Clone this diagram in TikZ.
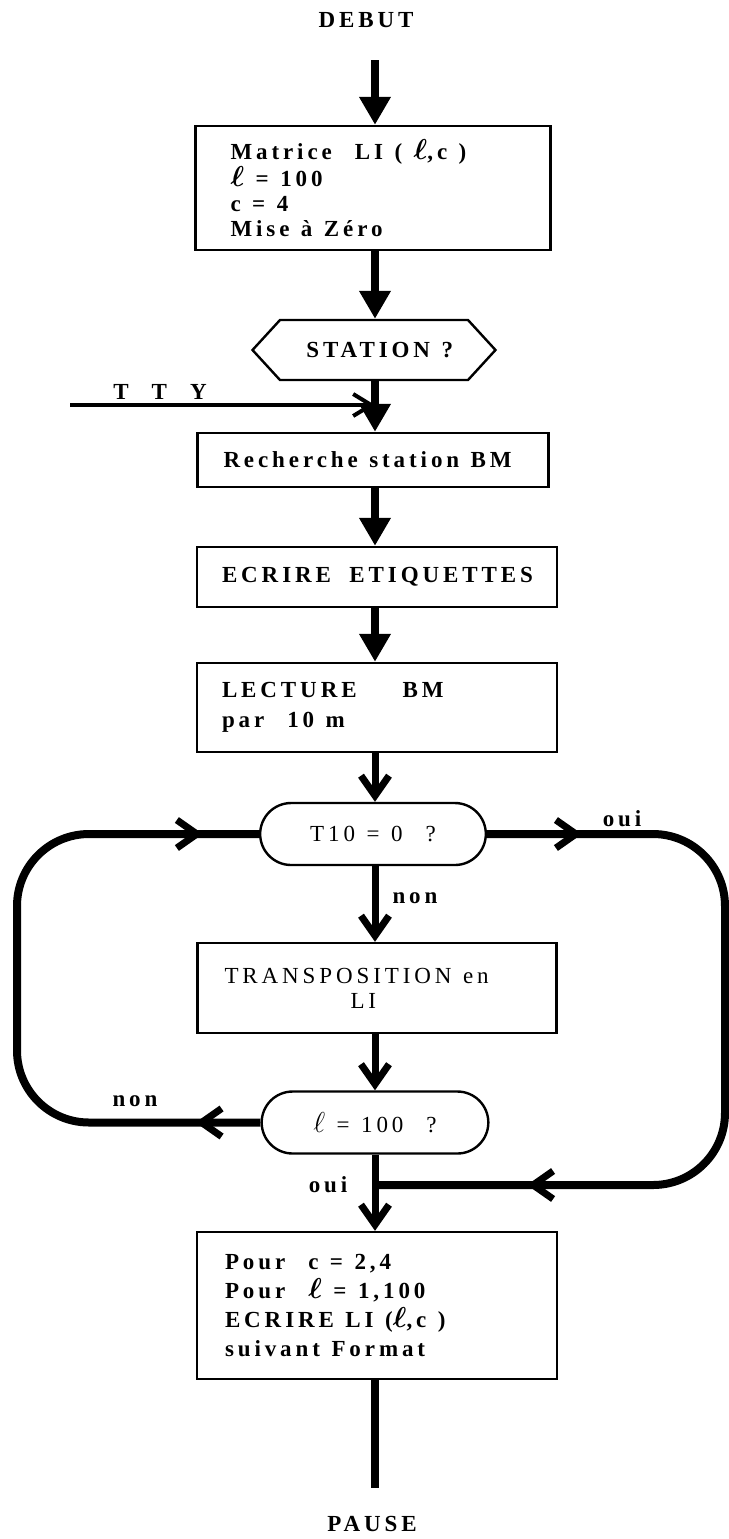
\documentclass[tikz,border=0pt]{standalone}
\usepackage{amsmath}
\usepackage{fontspec}
\setmainfont{Liberation Serif}[LetterSpace=17]
\usetikzlibrary{arrows.meta,decorations.markings,shapes.misc,shapes.symbols}
\newcommand{\lsym}{{\Large$\boldsymbol{\ell}$}}
\newcommand{\lsymr}{{\Large$\ell$}}
\newcommand{\ws}{\kern0.5em\relax}
\tikzset{
  txt/.style={font=\fontsize{11.5pt}{12.5pt}\selectfont\bfseries},
  txtr/.style={font=\fontsize{11.5pt}{12.5pt}\selectfont},
  box/.style={draw, line width=1.2pt, rectangle, align=left, inner ysep=2pt},
  stad/.style={draw, line width=1.2pt, rounded rectangle, minimum height=31pt},
  flow/.style={line width=4pt, -{Triangle[width=15pt,length=14pt]}},
  flowv/.style={line width=3.5pt, -{Straight Barb[width=14pt,length=10pt]}},
  loopline/.style={line width=4pt, rounded corners=36pt},
  barb/.tip={Straight Barb[width=14pt,length=10pt]},
}
\begin{document}
\begin{tikzpicture}[x=0.5pt,y=-0.5pt]
\useasboundingbox (0,0) rectangle (729,1539);
% nodes
\node[txt] (debut) at (366,20) {DEBUT};
\coordinate (start) at (375,60);
\node[box, txt, text width=142.5pt, inner xsep=17.5pt, minimum height=62pt] (b1) at (373,188)
  {Matrice\ws\ws LI\ws(\ws\lsym,c\ws)\\[1pt] \lsym\ws=\ws100\\ c\ws=\ws4\\ Mise\ws à\ws Zéro};
\node[draw, line width=1.2pt, signal, signal to=west and east, signal pointer angle=95,
  minimum width=121.5pt, minimum height=30pt, txt] (hex) at (374,350) {\ws STATION\ws ?};
\coordinate (ttyS) at (70,405);
\node[txt] (tty) at (160,392) {T\ws\ws T\ws\ws Y};
\node[box, txt, text width=149.5pt, inner xsep=13pt, minimum height=27pt] (rech) at (373,460)
  {Recherche\ws station\ws BM};
\node[box, txt, text width=155pt, inner xsep=12.5pt, minimum height=30pt] (ecr) at (377,577)
  {ECRIRE\ws\kern0.3em ETIQUETTES};
\node[box, txt, text width=155pt, inner xsep=12.5pt, minimum height=44.5pt] (lect) at (377,707.5)
  {LECTURE\ws\ws\ws\ws BM\\[2.5pt] par\ws\ws 10\ws m};
\node[stad, txtr, minimum width=119.5pt] (t10) at (373,834) {T10\ws=\ws0\ws\ws ?};
\node[txt] (non1) at (415,898) {non};
\node[txt, anchor=south] (oui1) at (622,834) {oui};
\node[box, txtr, text width=152.5pt, inner xsep=13.5pt, minimum height=45pt] (trans) at (377,988)
  {TRANSPOSITION\ws en\\ \hspace*{63pt}LI};
\node[stad, txtr, minimum width=120pt] (l100) at (375,1122.5) {\lsymr\ws=\ws100\ws\ws ?};
\node[txt, anchor=south] (non2) at (135,1114) {non};
\node[txt] (oui2) at (328,1185) {oui};
\coordinate (J) at (375,1185);
\coordinate (Lx) at (17,0);
\coordinate (Rx) at (725,0);
\node[box, txt, text width=152pt, inner xsep=14pt, minimum height=73.5pt] (pour) at (377,1305.5)
  {Pour\ws\ws c\ws=\ws2,4\\[2pt] Pour\ws\ws\lsym\ws=\ws1,100\\[2pt] ECRIRE\ws LI\ws(\lsym,c\ws)\\[2pt] suivant\ws Format};
\coordinate (endP) at (375,1488);
\node[txt] (pause) at (372,1524) {PAUSE};
% connectors
\draw[flow] (start) -- (start |- b1.north);
\draw[flow] (b1.south -| start) -- (hex.north -| start);
\draw[flow] (hex.south -| start) -- (rech.north -| start);
\draw[line width=2pt, -{Straight Barb[width=11pt,length=9pt]}] (ttyS) -- (ttyS -| start);
\draw[flow] (rech.south -| start) -- (ecr.north -| start);
\draw[flow] (ecr.south -| start) -- (lect.north -| start);
\draw[flowv] (lect.south -| start) -- (t10.north -| start);
\draw[flowv] (t10.south -| start) -- (trans.north -| start);
\draw[flowv] (trans.south -| start) -- (l100.north -| start);
\draw[flowv] (l100.south -| start) -- (pour.north -| start);
\draw[line width=4pt] (pour.south -| start) -- (endP);
% loops
\draw[loopline, postaction={decorate, decoration={markings,
    mark=at position 32.5pt with {\arrow[line width=3.5pt]{barb}},
    mark=at position -28pt with {\arrow[line width=3.5pt]{barb}}}}]
  (l100.west) -- (Lx |- l100.west) -- (Lx |- t10.west) -- (t10.west);
\draw[loopline, postaction={decorate, decoration={markings,
    mark=at position 47.5pt with {\arrow[line width=3.5pt]{barb}},
    mark=at position -76pt with {\arrow[line width=3.5pt]{barb}}}}]
  (t10.east) -- (Rx |- t10.east) -- (Rx |- J) -- (J);
\end{tikzpicture}
\end{document}
